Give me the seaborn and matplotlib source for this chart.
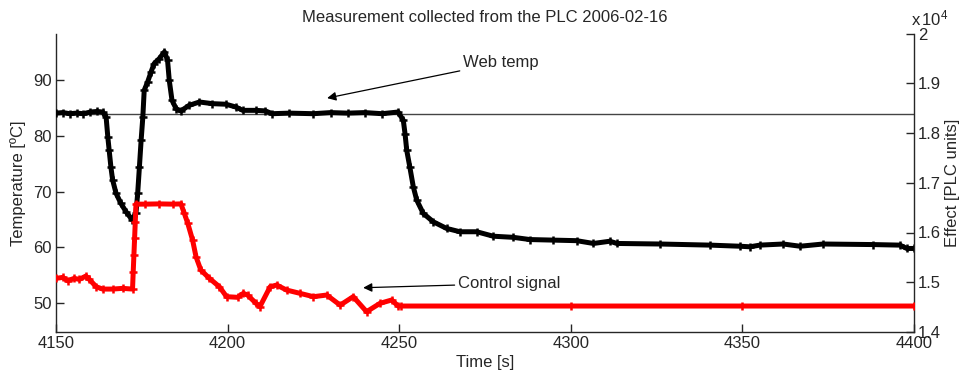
import matplotlib
matplotlib.use("Agg")
import matplotlib.pyplot as plt
import numpy as np
import pandas as pd
import seaborn as sns
from matplotlib.ticker import FixedLocator, FuncFormatter

# Web temperature [ºC] logged by the PLC
time_web = [4150.0, 4152.0, 4154.0, 4156.0, 4158.0, 4160.0, 4162.0, 4163.6, 4164.6, 4165.1,
            4165.5, 4166.0, 4166.5, 4167.5, 4168.9, 4170.4, 4172.1, 4173.3, 4173.8, 4174.3,
            4174.8, 4175.3, 4175.7, 4176.7, 4177.7, 4178.6, 4180.1, 4181.6, 4182.5, 4183.0,
            4183.8, 4185.0, 4186.4, 4188.8, 4191.8, 4195.6, 4199.5, 4202.4, 4204.4, 4208.3,
            4211.0, 4213.0, 4218.0, 4225.0, 4230.0, 4235.0, 4240.0, 4245.0, 4249.7, 4251.2,
            4251.7, 4252.2, 4253.1, 4254.1, 4255.1, 4257.0, 4259.9, 4263.8, 4267.7, 4272.6,
            4277.4, 4283.2, 4288.1, 4294.9, 4301.7, 4306.6, 4311.4, 4313.4, 4326.0, 4340.6,
            4349.3, 4352.2, 4355.1, 4361.9, 4366.8, 4373.5, 4388.0, 4395.9, 4397.9, 4400.0]
temp_web = [84.1, 84.2, 84.0, 84.1, 84.0, 84.3, 84.4, 84.3, 83.4, 79.8,
            77.4, 74.4, 72.1, 69.7, 67.9, 66.4, 65.0, 66.1, 69.7, 74.4,
            79.2, 83.4, 88.2, 89.7, 91.5, 93.0, 93.9, 95.1, 93.6, 90.0,
            86.4, 84.9, 84.5, 85.5, 86.1, 85.8, 85.7, 85.2, 84.6, 84.6,
            84.5, 84.0, 84.1, 84.0, 84.2, 84.1, 84.2, 84.0, 84.3, 82.8,
            80.4, 77.4, 74.4, 70.9, 68.5, 66.1, 64.6, 63.4, 62.8, 62.8,
            62.0, 61.8, 61.4, 61.3, 61.2, 60.7, 61.1, 60.7, 60.6, 60.4,
            60.2, 60.1, 60.4, 60.6, 60.2, 60.6, 60.5, 60.4, 59.8, 59.8]

# Control signal sent to the heater [PLC units]
time_ctrl = [4150.0, 4152.0, 4153.4, 4155.3, 4156.8, 4158.7, 4159.7, 4161.7, 4163.6, 4166.5,
             4169.4, 4172.3, 4172.5, 4172.7, 4172.9, 4173.1, 4173.3, 4176.0, 4180.0, 4184.0,
             4186.4, 4187.4, 4188.4, 4189.8, 4190.8, 4192.2, 4194.7, 4197.6, 4199.7, 4202.9,
             4204.6, 4205.8, 4208.3, 4209.4, 4212.4, 4214.3, 4217.2, 4221.1, 4225.0, 4228.9,
             4232.8, 4236.6, 4240.5, 4244.4, 4247.8, 4249.7, 4250.5, 4300.0, 4350.0, 4400.0]
effect_ctrl = [15078, 15098, 15030, 15078, 15058, 15124, 15058, 14910, 14863, 14863,
               14877, 14863, 15211, 15546, 15880, 16215, 16570, 16570, 16575, 16570,
               16575, 16383, 16183, 15847, 15512, 15245, 15078, 14910, 14710, 14697,
               14777, 14743, 14576, 14508, 14910, 14944, 14843, 14777, 14710, 14743,
               14540, 14710, 14408, 14576, 14643, 14522, 14522, 14522, 14522, 14522]

setpoint = 84.0
x_ticks = [4150, 4200, 4250, 4300, 4350, 4400]
temp_ticks = [50, 60, 70, 80, 90]
effect_ticks = [14000, 15000, 16000, 17000, 18000, 19000, 20000]

sns.set_theme(style="white")
plt.rcParams["font.family"] = ["Liberation Sans", "DejaVu Sans"]
plt.rcParams["mathtext.fontset"] = "custom"
plt.rcParams["mathtext.rm"] = "Liberation Sans"
plt.rcParams["mathtext.it"] = "Liberation Sans:italic"

ink = "#262626"
fs = 12

fig = plt.figure(figsize=(9.61, 3.79), dpi=100)
ax = fig.add_axes([56 / 961, 47 / 379, 858 / 961, 298.5 / 379])
ax2 = ax.twinx()

web = pd.DataFrame({"t": time_web, "temp": temp_web})
ctrl = pd.DataFrame({"t": time_ctrl, "effect": effect_ctrl})

ax.axhline(setpoint, color="#444444", lw=1.0, zorder=1)
sns.lineplot(data=web, x="t", y="temp", ax=ax, color="black", lw=3.6,
             marker="+", markersize=6, mew=1.8, markeredgecolor="black",
             estimator=None, sort=False, zorder=3)
sns.lineplot(data=ctrl, x="t", y="effect", ax=ax2, color="#ff0000", lw=3.6,
             marker="+", markersize=6, mew=1.8, markeredgecolor="#ff0000",
             estimator=None, sort=False, zorder=3)

ax.set_xlim(4150, 4400)
ax.set_ylim(44.8, 98.4)
ax2.set_ylim(14000, 20000)

ax.xaxis.set_major_locator(FixedLocator(x_ticks))
ax.yaxis.set_major_locator(FixedLocator(temp_ticks))
ax2.yaxis.set_major_locator(FixedLocator(effect_ticks))
ax2.yaxis.set_major_formatter(FuncFormatter(lambda v, p: f"{v / 1e4:g}"))

for a in (ax, ax2):
    a.tick_params(direction="in", length=6, width=1, colors=ink, labelsize=fs, pad=3)
    a.spines["top"].set_visible(False)
    for s in a.spines.values():
        s.set_color(ink)
        s.set_linewidth(1)
ax.spines["right"].set_visible(False)
ax2.spines["left"].set_visible(False)
ax2.spines["bottom"].set_visible(False)
ax.tick_params(left=True, bottom=True)
ax2.tick_params(right=True)

ax.set_xlabel("Time [s]", fontsize=fs, color=ink, labelpad=3)
ax.set_ylabel("Temperature [ºC]", fontsize=fs, color=ink, labelpad=5)
ax2.set_ylabel("Effect [PLC units]", fontsize=fs, color=ink, labelpad=3)
ax.set_title("Measurement collected from the PLC 2006-02-16", fontsize=fs, color=ink, pad=8)

ax2.annotate(r"x$\,$10$^{4}$", xy=(1.0, 1.0), xycoords="axes fraction",
             xytext=(-2, 4), textcoords="offset points", ha="left", va="bottom",
             fontsize=fs, color=ink)

arrow = dict(arrowstyle="-|>", lw=0.9, color="black", mutation_scale=13,
             shrinkA=0, shrinkB=0)
ax.annotate("Web temp", xy=(4229.0, 86.8), xytext=(4268.6, 93.2),
            ha="left", va="center", fontsize=fs, color=ink, arrowprops=arrow)
ax.annotate("Control signal", xy=(4239.5, 52.75), xytext=(4267.1, 53.5),
            ha="left", va="center", fontsize=fs, color=ink, arrowprops=arrow)

fig.savefig("out.png", dpi=100)
